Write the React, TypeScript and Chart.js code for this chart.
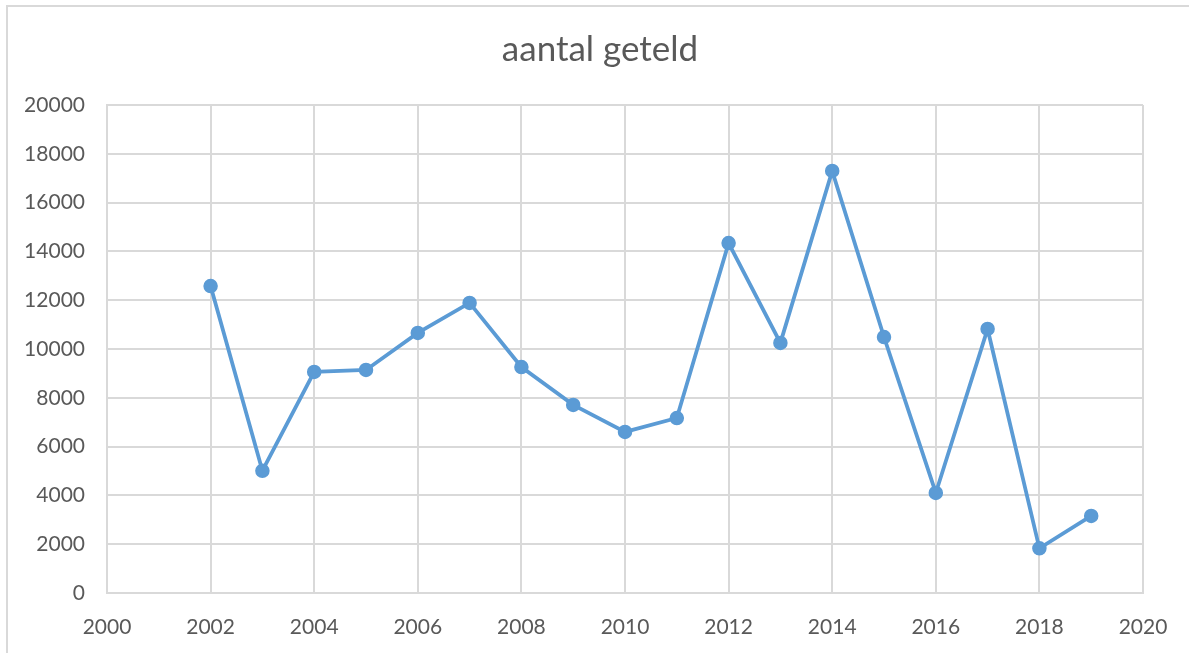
import React, { useEffect, useRef } from "react";
import { Chart, registerables } from "chart.js";

Chart.register(...registerables);

const years = [2002, 2003, 2004, 2005, 2006, 2007, 2008, 2009, 2010, 2011, 2012, 2013, 2014, 2015, 2016, 2017, 2018, 2019];
const counts = [12580, 5010, 9060, 9140, 10660, 11890, 9260, 7710, 6600, 7170, 14340, 10250, 17300, 10490, 4100, 10820, 1830, 3160];
const chartTitle = "aantal geteld";
const seriesLabel = "aantal geteld";

const FONT = "Lato, 'Open Sans', sans-serif";
const TEXT = "#595959";
const GRID = "#d9d9d9";
const BLUE = "#5b9bd5";

const titlePlugin = {
  id: "centeredTitle",
  afterDraw(chart: any) {
    const ctx = chart.ctx;
    ctx.save();
    ctx.fillStyle = TEXT;
    ctx.font = `35px ${FONT}`;
    ctx.textAlign = "center";
    ctx.textBaseline = "middle";
    ctx.fillText(chartTitle, 600, 50);
    ctx.restore();
  },
};

export default function App() {
  const ref = useRef<HTMLCanvasElement | null>(null);

  useEffect(() => {
    document.body.style.margin = "0";
    const canvas = ref.current;
    if (!canvas) return;
    const chart = new Chart(canvas, {
      type: "scatter",
      data: {
        datasets: [
          {
            label: seriesLabel,
            data: years.map((y, i) => ({ x: y, y: counts[i] })),
            showLine: true,
            borderColor: BLUE,
            backgroundColor: BLUE,
            borderWidth: 3.8,
            pointRadius: 6.5,
            pointBorderWidth: 1.5,
            pointBorderColor: BLUE,
            pointBackgroundColor: BLUE,
            tension: 0,
          },
        ],
      },
      options: {
        animation: false,
        responsive: false,
        maintainAspectRatio: false,
        layout: { padding: { left: 0, right: 49, top: 105, bottom: 0 } },
        plugins: {
          legend: { display: false },
          tooltip: { enabled: false },
          title: { display: false },
        },
        scales: {
          x: {
            type: "linear",
            min: 2000,
            max: 2020,
            ticks: {
              stepSize: 2,
              color: TEXT,
              font: { family: FONT, size: 21 },
              padding: 22,
              maxRotation: 0,
              callback: (v: any) => String(v),
            },
            grid: { color: GRID, lineWidth: 2, drawTicks: false },
            border: { color: GRID, width: 2 },
            afterFit: (s: any) => {
              s.height = 60;
            },
          },
          y: {
            min: 0,
            max: 20000,
            ticks: {
              stepSize: 2000,
              color: TEXT,
              font: { family: FONT, size: 21 },
              padding: 22,
              callback: (v: any) => String(v),
            },
            grid: { color: GRID, lineWidth: 2, drawTicks: false },
            border: { color: GRID, width: 2 },
            afterFit: (s: any) => {
              s.width = 107;
            },
          },
        },
      },
      plugins: [titlePlugin],
    });
    return () => chart.destroy();
  }, []);

  return (
    <div style={{ position: "relative", width: 1192, height: 653, overflow: "hidden", background: "#fff" }}>
      <canvas ref={ref} width={1192} height={653} style={{ position: "absolute", left: 0, top: 0 }} />
      <div
        style={{
          position: "absolute",
          left: 6,
          top: 5,
          width: 1181,
          height: 700,
          border: "2px solid #d9d9d9",
          borderRight: "none",
          pointerEvents: "none",
        }}
      />
    </div>
  );
}
